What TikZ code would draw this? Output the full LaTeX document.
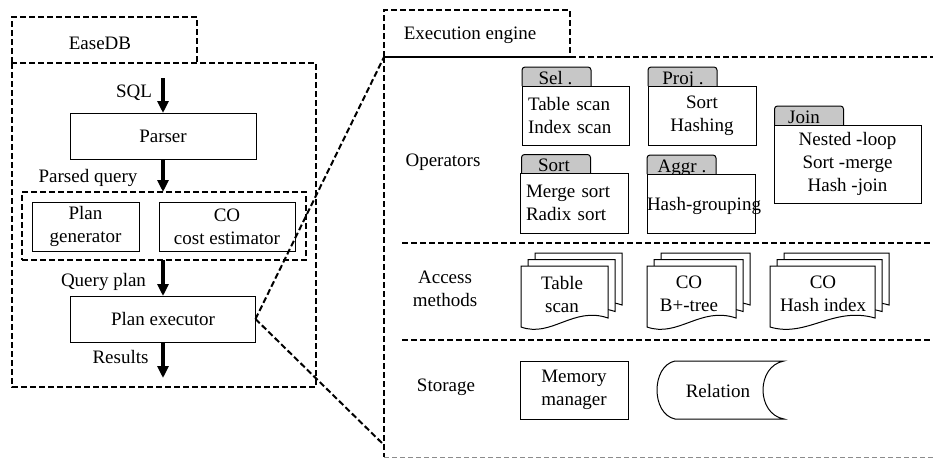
\documentclass[tikz,border=0pt]{standalone}
\usepackage{fontspec}
\setmainfont{Liberation Serif}
\usetikzlibrary{arrows.meta}
\newcommand{\onedoc}[3]{\begin{scope}[shift={(#1,#2)}]\draw[box] (0,0) -- (#3,0) -- (#3,52) .. controls ({0.6*#3},40) and ({0.35*#3},72) .. (0,61) -- cycle;\end{scope}}
\newcommand{\docstack}[3]{\onedoc{#1+14}{#2-13}{#3}\onedoc{#1+7}{#2-6.5}{#3}\onedoc{#1}{#2}{#3}}
\begin{document}
\begin{tikzpicture}[x=1pt,y=-1pt,
 every node/.style={font=\fontsize{19}{23}\selectfont, inner sep=0pt, outer sep=0pt},
 box/.style={draw, line width=1pt, fill=white},
 frame/.style={line width=2pt, dash pattern=on 6pt off 3pt},
 flow/.style={line width=3.8pt, -{Triangle[length=12pt,width=11pt]}},
 tabbox/.style={minimum width=69pt, minimum height=19pt, text height=15pt, text depth=0pt},
 tabline/.style={draw, line width=1pt, fill=black!22, rounded corners=3pt},
 lbl/.style={align=center},
]
\useasboundingbox (0,0) rectangle (933,458);

% ---------- left: EaseDB ----------
\draw[frame] (12,63) -- (12,17) -- (197,17) -- (197,63);
\draw[frame] (12,63) rectangle (316,387);
\node (easelbl) at (100,43) {EaseDB};

\node[box, minimum width=186pt, minimum height=46pt] (parser) at (163,136) {Parser};
\node[draw, frame, minimum width=284pt, minimum height=68pt] (optbox) at (164,226) {};
\node[box, minimum width=107pt, minimum height=49pt, lbl] (plangen) at (85.5,226.5) {Plan\\generator};
\node[box, minimum width=136pt, minimum height=49pt, lbl] (coest) at (227,226.5) {CO\\cost estimator};
\node[box, minimum width=185pt, minimum height=46pt] (pexec) at (163,319) {Plan executor};

\coordinate (sqlin) at (163,78);
\coordinate (resout) at (163,378);
\draw[flow] (sqlin) -- (parser.north);
\draw[flow] (parser.south) -- (parser.south |- optbox.north);
\draw[flow] (pexec.north |- optbox.south) -- (pexec.north);
\draw[flow] (pexec.south) -- (resout);

\node (sqllbl) at (134,93) {SQL};
\node (parsedlbl) at (88,178) {Parsed query};
\node (qplanlbl) at (103.5,282) {Query plan};
\node (reslbl) at (120.5,357) {Results};

% ---------- right: Execution engine ----------
\node (execlbl) at (470,35) {Execution engine};
\draw[frame] (384,57) -- (384,10) -- (570,10) -- (570,57);
\draw[line width=2pt] (384,57) -- (570,57);
\draw[frame] (570,57) -- (933,57);
\draw[frame] (384,57) -- (384,457);
\draw[black!45, line width=0.8pt, dash pattern=on 5pt off 3pt] (384,457) -- (933,457);
\draw[frame] (402,243) -- (933,243);
\draw[frame] (402,340) -- (933,340);

\coordinate (etl) at (384,57);
\coordinate (ebl) at (384,445);
\draw[frame] (pexec.east) -- (etl);
\draw[frame] (pexec.east) -- (ebl);

\node (oplbl) at (443,162) {Operators};
\node[lbl] (amlbl) at (445,289) {Access\\methods};
\node (stlbl) at (446,387) {Storage};

% operator tabs
\coordinate (seltab) at (556.5,76.5);
\coordinate (projtab) at (682.5,76.5);
\coordinate (sorttab) at (556,164);
\coordinate (aggrtab) at (681.5,164.5);
\coordinate (jointab) at (809,115.5);
\foreach \t in {seltab,projtab,sorttab,aggrtab,jointab}
  \draw[tabline] ([shift={(-34.5,9.5)}]\t) -- ([shift={(-34.5,-9.5)}]\t) -- ([shift={(34.5,-9.5)}]\t) -- ([shift={(34.5,9.5)}]\t);
\node[tabbox] (seltxt) at (555.5,76.5) {Sel .};
\node[tabbox] (projtxt) at (683,76.5) {Proj .};
\node[tabbox] (sorttxt) at (554,164) {Sort};
\node[tabbox] (aggrtxt) at (682,164.5) {Aggr .};
\node[tabbox] (jointxt) at (804,115.5) {Join};

% operator boxes
\node[box, minimum width=107pt, minimum height=59pt, text width=95pt, align=left] (selbox) at (575.5,115.5) {Table scan\\Index scan};
\node[box, minimum width=108pt, minimum height=59pt, lbl] (projbox) at (702,115.5) {Sort\\Hashing};
\node[box, minimum width=108pt, minimum height=60pt, text width=96pt, align=left] (sortbox) at (574,203) {Merge sort\\Radix sort};
\node[box, minimum width=108pt, minimum height=59pt] (aggrbox) at (701,203.5) {};
\node (aggrbody) at (704,206) {Hash-grouping};
\node[box, minimum width=147pt, minimum height=78pt, lbl] (joinbox) at (847.5,164) {Nested -loop\\Sort -merge\\Hash -join};

% access methods
\docstack{521}{266}{87}
\docstack{647}{266}{89}
\docstack{770}{266}{105}
\node[lbl] (tsdoc) at (562,294) {Table\\scan};
\node[lbl] (btdoc) at (689,294) {CO\\B+-tree};
\node[lbl] (hidoc) at (823,294) {CO\\Hash index};

% storage
\node[box, minimum width=108pt, minimum height=58pt, lbl] (memmgr) at (574,390) {Memory\\manager};
\draw[line width=1pt] (675,361) -- (784,361) .. controls (756,366) and (756,414) .. (784,419)
   -- (675,419) .. controls (651,414) and (651,366) .. (675,361) -- cycle;
\node (rel) at (718,391) {Relation};
\end{tikzpicture}
\end{document}
